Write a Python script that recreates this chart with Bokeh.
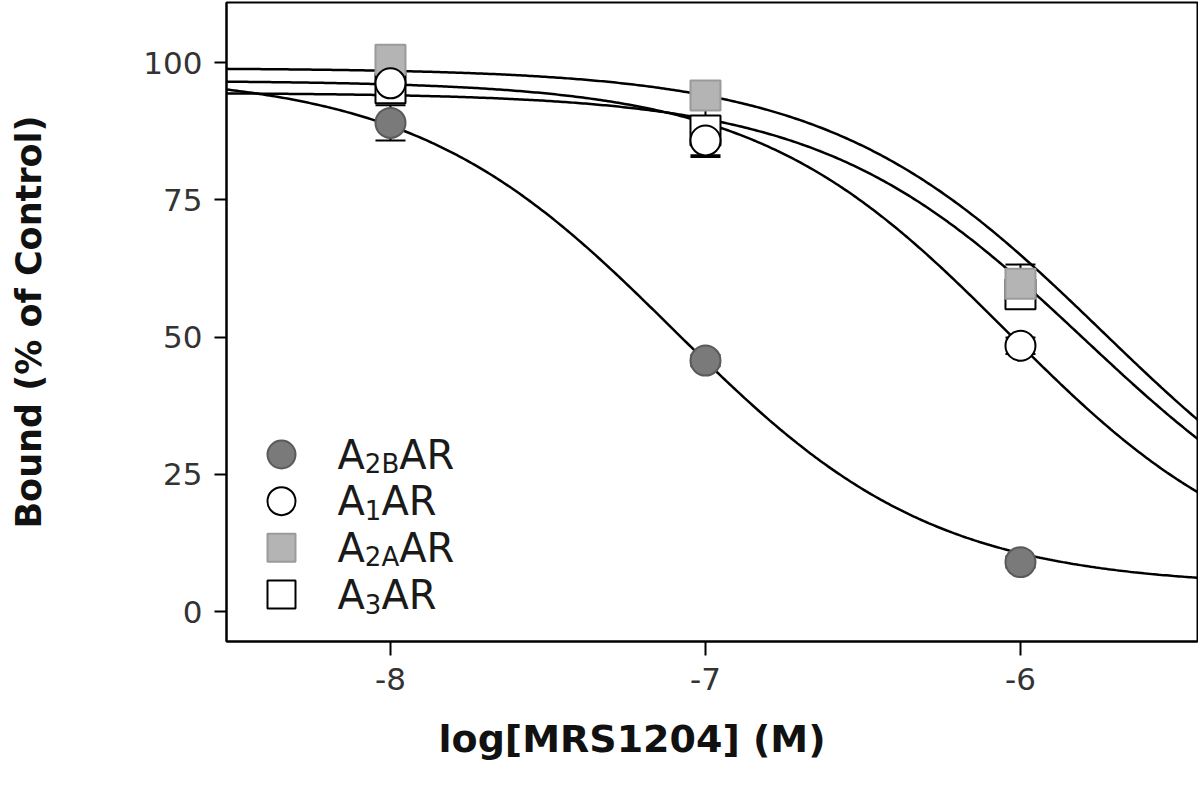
import numpy as np
from bokeh.plotting import figure
from bokeh.models import Range1d, FixedTicker, ColumnDataSource, Title
from bokeh.core.properties import value
from bokeh.embed import file_html
from bokeh.resources import INLINE

# ---------------- data ----------------
log_conc = [-8, -7, -6]
x_ticks = [-8, -7, -6]
x_tick_labels = ["-8", "-7", "-6"]
y_ticks = [0, 25, 50, 75, 100]
y_tick_labels = ["0", "25", "50", "75", "100"]

receptors = ["A2B", "A1", "A2A", "A3"]
bound_a2b = [89.0, 45.7, 9.0]
err_a2b = [3.2, 1.0, 1.0]
bound_a1 = [96.2, 85.8, 48.4]
err_a1 = [1.5, 3.0, 1.5]
bound_a2a = [100.5, 94.0, 59.7]
err_a2a = [2.0, 2.0, 3.5]
bound_a3 = [95.3, 87.6, 57.8]
err_a3 = [2.0, 4.5, 2.0]

# fitted one-site competition curves (parameters)
fit_top = [98.0, 96.7, 99.0, 94.5]
fit_bottom = [4.5, 5.0, 3.0, 5.0]
fit_log_ic50 = [-7.10, -6.04, -5.74, -5.80]
fit_hill = [1.05, 1.08, 1.00, 1.04]

legend_main = ["A", "A", "A", "A"]
legend_sub = ["2B", "1", "2A", "3"]
legend_tail = ["AR", "AR", "AR", "AR"]

x_title = "log[MRS1204] (M)"
y_title = "Bound (% of Control)"

# ---------------- styling / layout ----------------
FONT = "DejaVu Sans"
marker_size = 30
styles = {
    "A2B": dict(marker="circle", fill_color="#7a7a7a", line_color="#5a5a5a"),
    "A1": dict(marker="circle", fill_color="white", line_color="black"),
    "A2A": dict(marker="square", fill_color="#b4b4b4", line_color="#9a9a9a"),
    "A3": dict(marker="square", fill_color="white", line_color="black"),
}

p = figure(width=1198, height=786, output_backend="svg", toolbar_location=None,
           x_range=Range1d(-8.5206, -5.438), y_range=Range1d(-5.46, 110.93),
           min_border_left=226, min_border_right=1, min_border_top=2,
           min_border_bottom=145)
p.background_fill_color = "white"
p.border_fill_color = "white"
p.outline_line_color = "black"
p.outline_line_width = 2
p.xgrid.visible = False
p.ygrid.visible = False

for ax in (p.xaxis[0], p.yaxis[0]):
    ax.axis_line_width = 2
    ax.axis_line_color = "black"
    ax.major_tick_line_width = 2
    ax.major_tick_line_color = "black"
    ax.major_tick_in = 0
    ax.minor_tick_line_color = None
    ax.major_label_text_font = FONT
    ax.major_label_text_font_size = "31px"
    ax.major_label_text_color = "#333333"
    ax.axis_label_text_font = FONT
    ax.axis_label_text_font_style = "bold"
    ax.axis_label_text_color = "#111111"

p.xaxis.ticker = FixedTicker(ticks=x_ticks)
p.xaxis.major_label_overrides = dict(zip(x_ticks, x_tick_labels))
p.xaxis.major_tick_out = 14
p.xaxis.major_label_standoff = 12

# x title sits left of the frame centre in the original, so it is a left-aligned title
xtitle = Title(text=x_title, align="left", offset=212, vertical_align="middle",
               standoff=47, text_font=FONT, text_font_style="bold",
               text_font_size="38px", text_color="#111111")
p.add_layout(xtitle, "below")

p.yaxis.ticker = FixedTicker(ticks=y_ticks)
p.yaxis.major_label_overrides = dict(zip(y_ticks, y_tick_labels))
p.yaxis.major_tick_out = 12
p.yaxis.major_label_standoff = 12
p.yaxis.axis_label = y_title
p.yaxis.axis_label_text_font_size = "35px"
p.yaxis.axis_label_standoff = 91

# ---------------- curves ----------------
xs = np.linspace(-8.6, -5.4, 400)
for top, bot, c, h in zip(fit_top, fit_bottom, fit_log_ic50, fit_hill):
    ys = bot + (top - bot) / (1.0 + 10.0 ** ((xs - c) * h))
    p.line(xs, ys, line_color="black", line_width=2.5)

# ---------------- error bars + markers ----------------
series = {
    "A2B": (bound_a2b, err_a2b),
    "A3": (bound_a3, err_a3),
    "A2A": (bound_a2a, err_a2a),
    "A1": (bound_a1, err_a1),
}
for name, (vals, errs) in series.items():
    lo = [v - e for v, e in zip(vals, errs)]
    hi = [v + e for v, e in zip(vals, errs)]
    p.segment(x0=log_conc, y0=lo, x1=log_conc, y1=hi, line_color="black", line_width=2)
    p.scatter(x=log_conc + log_conc, y=lo + hi, marker="dash", size=marker_size,
              line_color="black", line_width=2)
for name, (vals, errs) in series.items():
    st = styles[name]
    p.scatter(x=log_conc, y=vals, marker=st["marker"], size=marker_size,
              fill_color=st["fill_color"], line_color=st["line_color"], line_width=2)

# ---------------- legend (drawn by hand for subscripts) ----------------
leg_x = -8.346
leg_y0 = 28.6
leg_dy = 8.5
main_px, sub_px = 40, 26
adv = {"A": 0.684, "R": 0.695, "1": 0.636, "2": 0.636, "3": 0.636, "B": 0.686}
for i, name in enumerate(receptors):
    st = styles[name]
    y = leg_y0 - i * leg_dy
    p.scatter(x=[leg_x], y=[y], marker=st["marker"], size=marker_size - 2,
              fill_color=st["fill_color"], line_color=st["line_color"], line_width=2)
    off0 = 56
    off1 = off0 + adv["A"] * main_px
    off2 = off1 + sum(adv[ch] for ch in legend_sub[i]) * sub_px
    src = ColumnDataSource(dict(x=[leg_x] * 3, y=[y] * 3,
                                t=[legend_main[i], legend_sub[i], legend_tail[i]],
                                xo=[off0, off1, off2], yo=[0, 9, 0],
                                fs=[f"{main_px}px", f"{sub_px}px", f"{main_px}px"]))
    p.text(x="x", y="y", text="t", x_offset="xo", y_offset="yo", source=src,
           text_font=value(FONT), text_font_size="fs", text_color="#1a1a1a",
           text_align="left", text_baseline="alphabetic")

open("out.html", "w").write(file_html(p, INLINE))
